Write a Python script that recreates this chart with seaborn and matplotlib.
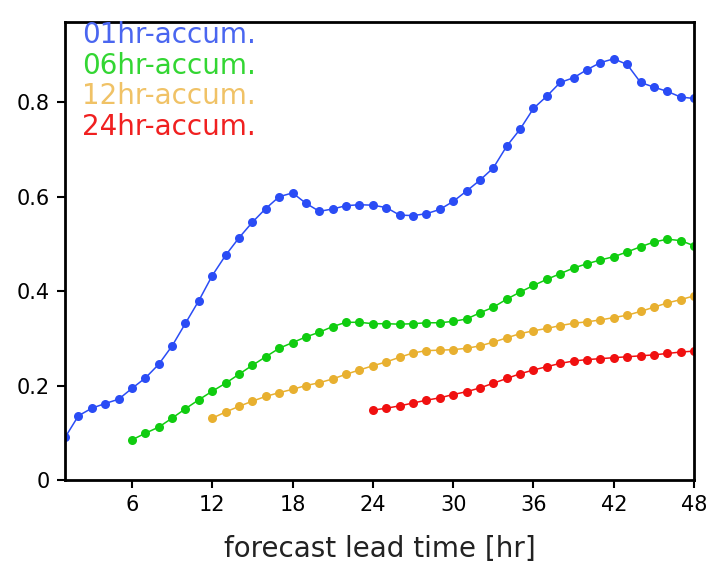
import numpy as np
import pandas as pd
import matplotlib
matplotlib.use("Agg")
import matplotlib.pyplot as plt
import seaborn as sns

# ------------------------------------------------------------
# data (value per forecast hour)
# ------------------------------------------------------------
hours_01 = list(range(1, 49))
acc_01 = [0.090, 0.136, 0.152, 0.162, 0.171, 0.194, 0.216, 0.245, 0.284, 0.332,
          0.380, 0.433, 0.476, 0.513, 0.546, 0.575, 0.600, 0.608, 0.586, 0.569,
          0.574, 0.581, 0.583, 0.582, 0.577, 0.561, 0.560, 0.564, 0.573, 0.590,
          0.612, 0.635, 0.661, 0.707, 0.743, 0.787, 0.813, 0.842, 0.852, 0.869,
          0.884, 0.892, 0.880, 0.842, 0.832, 0.823, 0.811, 0.808]

hours_06 = list(range(6, 49))
acc_06 = [0.085, 0.099, 0.112, 0.131, 0.151, 0.170, 0.188, 0.205, 0.224, 0.243,
          0.261, 0.279, 0.291, 0.303, 0.313, 0.325, 0.334, 0.334, 0.331, 0.331,
          0.330, 0.331, 0.333, 0.333, 0.336, 0.341, 0.354, 0.366, 0.383, 0.398,
          0.412, 0.425, 0.437, 0.449, 0.458, 0.466, 0.473, 0.483, 0.494, 0.504,
          0.510, 0.507, 0.496]

hours_12 = list(range(12, 49))
acc_12 = [0.131, 0.144, 0.156, 0.167, 0.177, 0.185, 0.192, 0.200, 0.206, 0.214,
          0.224, 0.233, 0.242, 0.250, 0.260, 0.269, 0.274, 0.275, 0.276, 0.279,
          0.284, 0.292, 0.301, 0.310, 0.316, 0.321, 0.327, 0.332, 0.335, 0.339,
          0.344, 0.349, 0.357, 0.366, 0.375, 0.382, 0.390]

hours_24 = list(range(24, 49))
acc_24 = [0.148, 0.152, 0.157, 0.163, 0.169, 0.174, 0.181, 0.187, 0.195, 0.205,
          0.215, 0.225, 0.233, 0.240, 0.247, 0.252, 0.255, 0.257, 0.259, 0.261,
          0.263, 0.265, 0.268, 0.271, 0.273]

labels = ["01hr-accum.", "06hr-accum.", "12hr-accum.", "24hr-accum."]
line_colors = ["#2a4cf5", "#10cc10", "#e8b030", "#f01010"]
text_colors = ["#4a66f0", "#33d633", "#f0c266", "#f02020"]

xticks = [6, 12, 18, 24, 30, 36, 42, 48]
yticks = [0, 0.2, 0.4, 0.6, 0.8]
ytick_labels = ["0", "0.2", "0.4", "0.6", "0.8"]

series = [(hours_01, acc_01), (hours_06, acc_06), (hours_12, acc_12), (hours_24, acc_24)]
frames = []
for lab, (h, v) in zip(labels, series):
    frames.append(pd.DataFrame({"hour": h, "value": v, "accum": lab}))
df = pd.concat(frames, ignore_index=True)

# ------------------------------------------------------------
# plot
# ------------------------------------------------------------
sns.set_style("white")
plt.rcParams["font.family"] = ["DejaVu Sans"]

fig = plt.figure(figsize=(7.10, 5.79), dpi=100)
ax = fig.add_axes([0.0916, 0.171, 0.886, 0.791])

for lab, col in zip(labels, line_colors):
    sub = df[df["accum"] == lab]
    sns.lineplot(data=sub, x="hour", y="value", ax=ax, color=col,
                 linewidth=1.1, marker="o", markersize=6.5,
                 markeredgewidth=0, legend=False)

ax.set_xlim(1, 48)
ax.set_ylim(0, 0.97)
ax.set_xticks(xticks)
ax.set_yticks(yticks)
ax.set_yticklabels(ytick_labels)

ax.tick_params(axis="both", direction="out", length=6, width=1.5,
               color="black", labelcolor="black", labelsize=15,
               left=True, bottom=True, pad=5)
for sp in ax.spines.values():
    sp.set_visible(True)
    sp.set_color("black")
    sp.set_linewidth(2)

ax.set_xlabel("forecast lead time [hr]", fontsize=20, labelpad=14,
              color="#222222")
ax.set_ylabel("")

for i, (lab, col) in enumerate(zip(labels, text_colors)):
    ax.text(0.027, 1.003 - i * 0.0675, lab, transform=ax.transAxes,
            color=col, fontsize=20, ha="left", va="top")

fig.savefig("out.png", dpi=100)
